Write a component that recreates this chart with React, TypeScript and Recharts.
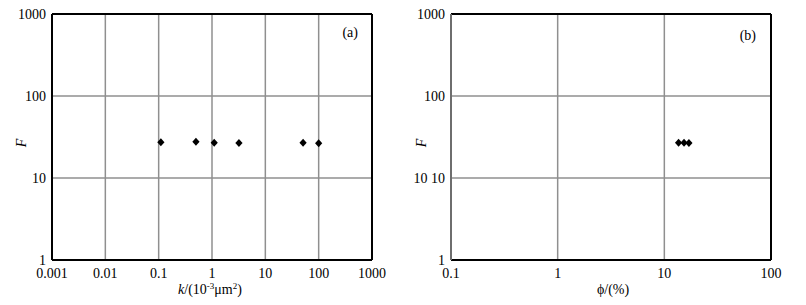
import React from "react";
import {
  ScatterChart,
  Scatter,
  XAxis,
  YAxis,
  CartesianGrid,
  ReferenceLine,
} from "recharts";

// ---- data ----
const kValues = [0.11, 0.5, 1.1, 3.2, 51, 100];
const kF = [27.2, 27.7, 27.0, 26.8, 27.0, 26.5];
const phiValues = [13.6, 15.3, 17.0];
const phiF = [27.0, 27.0, 26.8];

const kTicks = [0.001, 0.01, 0.1, 1, 10, 100, 1000];
const phiTicks = [0.1, 1, 10, 100];
const fTicks = [1, 10, 100, 1000];

const kData = kValues.map((k, i) => ({ x: k, y: kF[i] }));
const phiData = phiValues.map((p, i) => ({ x: p, y: phiF[i] }));

const FONT = "'Liberation Serif', 'Times New Roman', serif";
const GRID = "#8f8f8f";

const Diamond = (props: any) => {
  const { cx, cy } = props;
  if (cx == null || cy == null) return null;
  const w = 3.6;
  const h = 4;
  return (
    <path
      d={`M${cx},${cy - h} L${cx + w},${cy} L${cx},${cy + h} L${cx - w},${cy} Z`}
      fill="#000"
    />
  );
};

const KTitle = (props: any) => {
  const vb = props.viewBox || {};
  const cx = vb.x + vb.width / 2 - 2;
  const y = vb.y + 34;
  return (
    <text x={cx} y={y} textAnchor="middle" fontFamily={FONT} fontSize={14} fill="#000">
      <tspan fontStyle="italic">k</tspan>
      <tspan>/(10</tspan>
      <tspan fontSize={9} dy={-5}>-3</tspan>
      <tspan dy={5}>μm</tspan>
      <tspan fontSize={9} dy={-5}>2</tspan>
      <tspan dy={5}>)</tspan>
    </text>
  );
};

const PhiTitle = (props: any) => {
  const vb = props.viewBox || {};
  const cx = vb.x + vb.width / 2 + 2;
  const y = vb.y + 34;
  return (
    <text x={cx} y={y} textAnchor="middle" fontFamily={FONT} fontSize={14} fill="#000">
      ϕ/(%)
    </text>
  );
};

const FTitle = (props: any) => {
  const { x } = props;
  return (
    <text
      x={x}
      y={143}
      transform={`rotate(-90 ${x} 143)`}
      textAnchor="middle"
      fontFamily={FONT}
      fontStyle="italic"
      fontSize={14}
      fill="#000"
    >
      F
    </text>
  );
};

const Annot = (props: any) => {
  const vb = props.viewBox || {};
  const { text, dx, dy } = props;
  return (
    <text
      x={vb.x - dx}
      y={vb.y + dy}
      textAnchor="end"
      fontFamily={FONT}
      fontSize={14}
      fill="#000"
    >
      {text}
    </text>
  );
};

const tickStyle = { fontFamily: FONT, fontSize: 14, fill: "#000" };

export default function App() {
  return (
    <div
      style={{
        position: "absolute",
        left: 0,
        top: 0,
        width: 806,
        height: 305,
        background: "#fff",
      }}
    >
      <div style={{ position: "absolute", left: 0, top: 0 }}>
        <ScatterChart
          width={400}
          height={305}
          margin={{ top: 14, right: 28, bottom: 0, left: 0 }}
        >
          <CartesianGrid stroke={GRID} strokeWidth={1.5} />
          <XAxis
            type="number"
            dataKey="x"
            scale="log"
            domain={[0.001, 1000]}
            ticks={kTicks}
            allowDataOverflow
            height={45}
            tickSize={0}
            tickMargin={8}
            tick={tickStyle}
            tickFormatter={(v: number) => String(v)}
            axisLine={{ stroke: "#000", strokeWidth: 2 }}
            label={<KTitle />}
          />
          <YAxis
            type="number"
            dataKey="y"
            scale="log"
            domain={[1, 1000]}
            ticks={fTicks}
            allowDataOverflow
            width={52}
            tickSize={0}
            tickMargin={6}
            tick={tickStyle}
            axisLine={{ stroke: "#000", strokeWidth: 2 }}
            label={<FTitle x={10} />}
          />
          <ReferenceLine y={1000} stroke="#000" strokeWidth={2} ifOverflow="visible" />
          <ReferenceLine
            x={1000}
            stroke="#000"
            strokeWidth={2}
            ifOverflow="visible"
            label={<Annot text="(a)" dx={14} dy={23} />}
          />
          <Scatter data={kData} shape={<Diamond />} isAnimationActive={false} />
        </ScatterChart>
      </div>
      <div style={{ position: "absolute", left: 400, top: 0 }}>
        <ScatterChart
          width={406}
          height={305}
          margin={{ top: 14, right: 35, bottom: 0, left: 0 }}
        >
          <CartesianGrid stroke={GRID} strokeWidth={1.5} />
          <XAxis
            type="number"
            dataKey="x"
            scale="log"
            domain={[0.1, 100]}
            ticks={phiTicks}
            allowDataOverflow
            height={45}
            tickSize={0}
            tickMargin={8}
            tick={tickStyle}
            tickFormatter={(v: number) => String(v)}
            axisLine={{ stroke: "#000", strokeWidth: 2 }}
            label={<PhiTitle />}
          />
          <YAxis
            type="number"
            dataKey="y"
            scale="log"
            domain={[1, 1000]}
            ticks={fTicks}
            allowDataOverflow
            width={51}
            tickSize={0}
            tickMargin={6}
            tick={tickStyle}
            tickFormatter={(v: number) => (v === 10 ? "10 10" : String(v))}
            axisLine={{ stroke: "#6e6e6e", strokeWidth: 2 }}
            label={<FTitle x={9} />}
          />
          <ReferenceLine y={1000} stroke="#000" strokeWidth={2} ifOverflow="visible" />
          <ReferenceLine
            x={100}
            stroke="#000"
            strokeWidth={2}
            ifOverflow="visible"
            label={<Annot text="(b)" dx={15} dy={26} />}
          />
          <Scatter data={phiData} shape={<Diamond />} isAnimationActive={false} />
        </ScatterChart>
      </div>
    </div>
  );
}
